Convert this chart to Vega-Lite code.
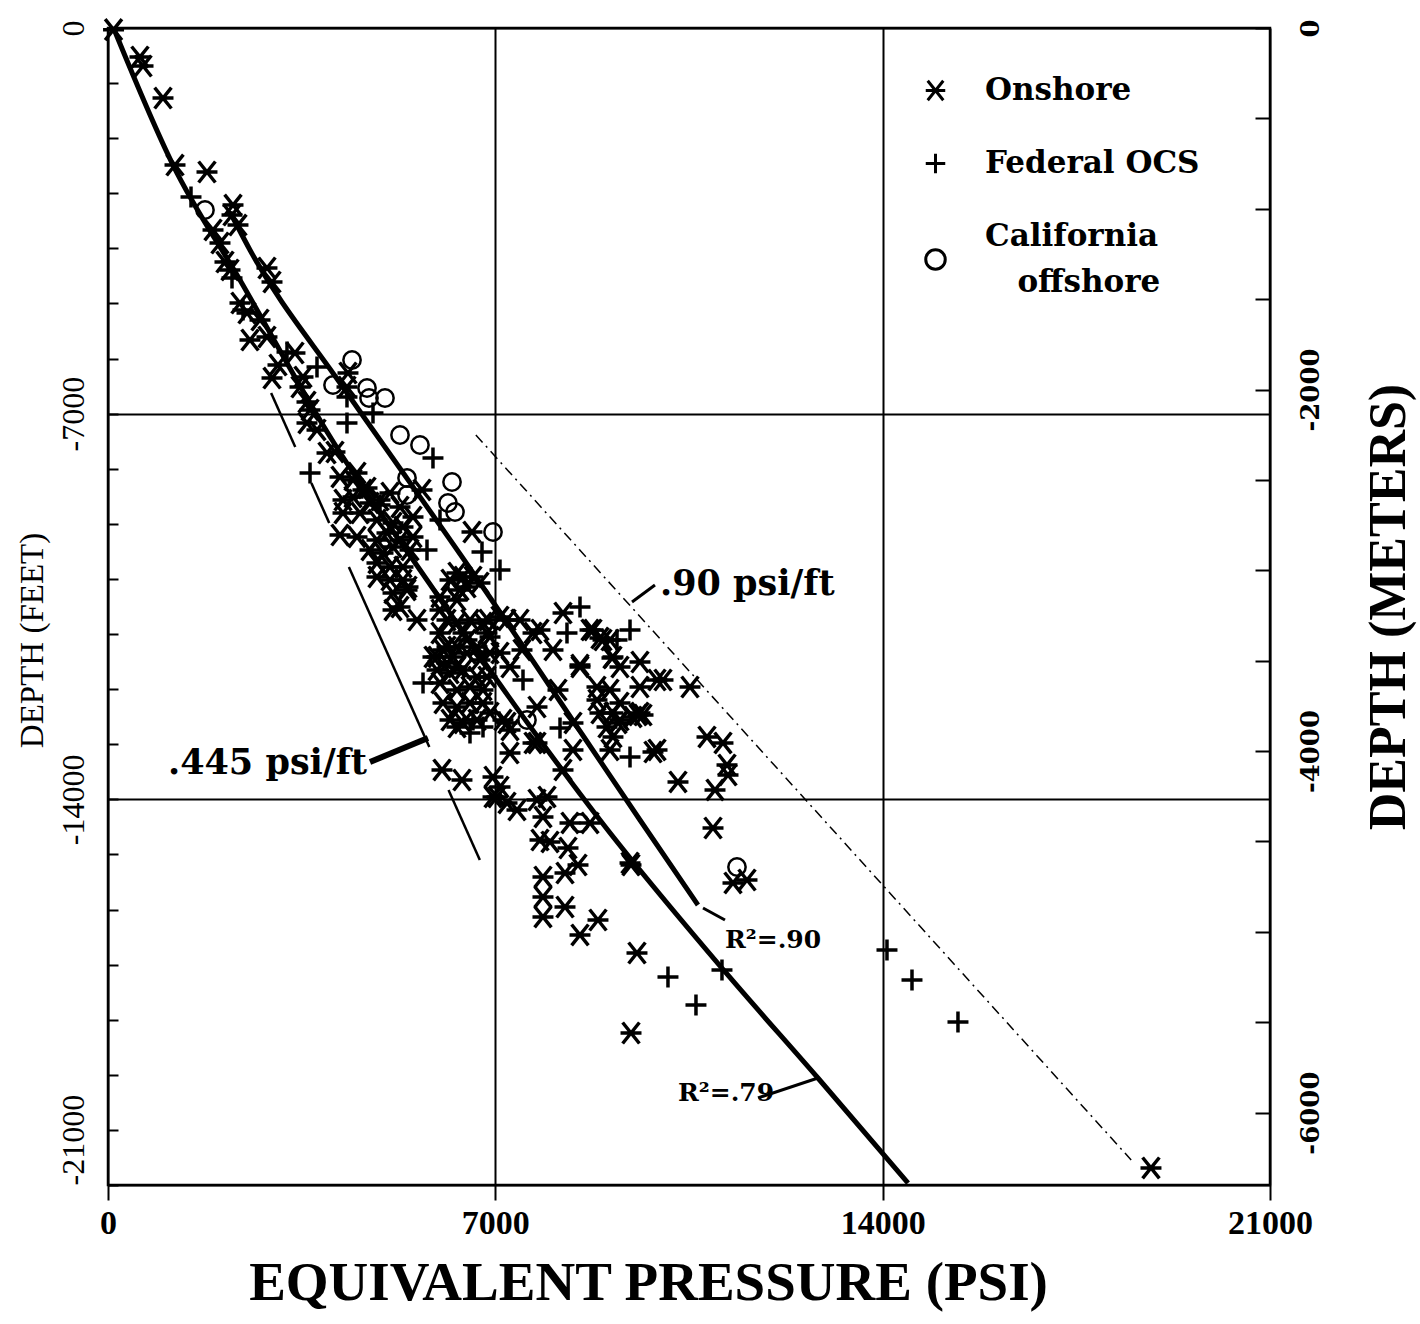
{
  "$schema": "https://vega.github.io/schema/vega-lite/v6.json",
  "width": 1162,
  "height": 1157,
  "autosize": {"type": "none"},
  "padding": {"left": 108, "top": 28, "right": 150, "bottom": 139},
  "background": "white",
  "config": {
    "view": {"stroke": "black", "strokeWidth": 2.5},
    "font": "Liberation Serif",
    "style": {"guide-label": {"lineHeight": 46}}
  },
  "datasets": {
    "pts": [
      {"source":"Onshore","psi":100,"depth":-30},{"source":"Onshore","psi":578,"depth":-526},{"source":"Onshore","psi":633,"depth":-690},{"source":"Onshore","psi":994,"depth":-1271},{"source":"Onshore","psi":1211,"depth":-2487},{"source":"Onshore","psi":1789,"depth":-2614},{"source":"Onshore","psi":2259,"depth":-3213},{"source":"Onshore","psi":2349,"depth":-3576},{"source":"Onshore","psi":2241,"depth":-3394},{"source":"Onshore","psi":1898,"depth":-3666},{"source":"Onshore","psi":2024,"depth":-3902},{"source":"Onshore","psi":2114,"depth":-4247},{"source":"Onshore","psi":2205,"depth":-4392},{"source":"Onshore","psi":2873,"depth":-4356},{"source":"Onshore","psi":2964,"depth":-4610},{"source":"Onshore","psi":2385,"depth":-4991},{"source":"Onshore","psi":2512,"depth":-5173},{"source":"Onshore","psi":2747,"depth":-5300},{"source":"Onshore","psi":2566,"depth":-5663},{"source":"Onshore","psi":2873,"depth":-5608},{"source":"Onshore","psi":3072,"depth":-6117},{"source":"Onshore","psi":2964,"depth":-6353},{"source":"Onshore","psi":3379,"depth":-5899},{"source":"Onshore","psi":3524,"depth":-6334},{"source":"Onshore","psi":3470,"depth":-6516},{"source":"Onshore","psi":4337,"depth":-6262},{"source":"Onshore","psi":4319,"depth":-6516},{"source":"Onshore","psi":3596,"depth":-6788},{"source":"Onshore","psi":3651,"depth":-6933},{"source":"Onshore","psi":3596,"depth":-7169},{"source":"Onshore","psi":3777,"depth":-7296},{"source":"Onshore","psi":4102,"depth":-7696},{"source":"Onshore","psi":3958,"depth":-7714},{"source":"Onshore","psi":4193,"depth":-8149},{"source":"Onshore","psi":4500,"depth":-8077},{"source":"Onshore","psi":4428,"depth":-8204},{"source":"Onshore","psi":4681,"depth":-8349},{"source":"Onshore","psi":5675,"depth":-8385},{"source":"Onshore","psi":4247,"depth":-8567},{"source":"Onshore","psi":4428,"depth":-8512},{"source":"Onshore","psi":4608,"depth":-8385},{"source":"Onshore","psi":4735,"depth":-8621},{"source":"Onshore","psi":4916,"depth":-8567},{"source":"Onshore","psi":5096,"depth":-8440},{"source":"Onshore","psi":5277,"depth":-8694},{"source":"Onshore","psi":4247,"depth":-8803},{"source":"Onshore","psi":4554,"depth":-8803},{"source":"Onshore","psi":4861,"depth":-8930},{"source":"Onshore","psi":5151,"depth":-8984},{"source":"Onshore","psi":5331,"depth":-9057},{"source":"Onshore","psi":5512,"depth":-8875},{"source":"Onshore","psi":4193,"depth":-9202},{"source":"Onshore","psi":4500,"depth":-9238},{"source":"Onshore","psi":4861,"depth":-9293},{"source":"Onshore","psi":5042,"depth":-9166},{"source":"Onshore","psi":5277,"depth":-9293},{"source":"Onshore","psi":5512,"depth":-9238},{"source":"Onshore","psi":4735,"depth":-9474},{"source":"Onshore","psi":4970,"depth":-9529},{"source":"Onshore","psi":5151,"depth":-9420},{"source":"Onshore","psi":5458,"depth":-9474},{"source":"Onshore","psi":4861,"depth":-9710},{"source":"Onshore","psi":5096,"depth":-9783},{"source":"Onshore","psi":5331,"depth":-9783},{"source":"Onshore","psi":4861,"depth":-9964},{"source":"Onshore","psi":5096,"depth":-10019},{"source":"Onshore","psi":5331,"depth":-10019},{"source":"Onshore","psi":5151,"depth":-10255},{"source":"Onshore","psi":5404,"depth":-10200},{"source":"Onshore","psi":5151,"depth":-10563},{"source":"Onshore","psi":5277,"depth":-10509},{"source":"Onshore","psi":5584,"depth":-10745},{"source":"Onshore","psi":6000,"depth":-10327},{"source":"Onshore","psi":6181,"depth":-10019},{"source":"Onshore","psi":6307,"depth":-9892},{"source":"Onshore","psi":6416,"depth":-9964},{"source":"Onshore","psi":6596,"depth":-9964},{"source":"Onshore","psi":6723,"depth":-10073},{"source":"Onshore","psi":6361,"depth":-10200},{"source":"Onshore","psi":6307,"depth":-10382},{"source":"Onshore","psi":6000,"depth":-10563},{"source":"Onshore","psi":6126,"depth":-10745},{"source":"Onshore","psi":6307,"depth":-10799},{"source":"Onshore","psi":6000,"depth":-10981},{"source":"Onshore","psi":6126,"depth":-11235},{"source":"Onshore","psi":6307,"depth":-11235},{"source":"Onshore","psi":5946,"depth":-11416},{"source":"Onshore","psi":6126,"depth":-11525},{"source":"Onshore","psi":6307,"depth":-11598},{"source":"Onshore","psi":6488,"depth":-11108},{"source":"Onshore","psi":6669,"depth":-11235},{"source":"Onshore","psi":6777,"depth":-10799},{"source":"Onshore","psi":6849,"depth":-10981},{"source":"Onshore","psi":6904,"depth":-11344},{"source":"Onshore","psi":7084,"depth":-11344},{"source":"Onshore","psi":7211,"depth":-10745},{"source":"Onshore","psi":7446,"depth":-10745},{"source":"Onshore","psi":7681,"depth":-10981},{"source":"Onshore","psi":8042,"depth":-11289},{"source":"Onshore","psi":6578,"depth":-9148},{"source":"Onshore","psi":5422,"depth":-10146},{"source":"Onshore","psi":6488,"depth":-10146},{"source":"Onshore","psi":6542,"depth":-10745},{"source":"Onshore","psi":6416,"depth":-10981},{"source":"Onshore","psi":6867,"depth":-10745},{"source":"Onshore","psi":7084,"depth":-10690},{"source":"Onshore","psi":6904,"depth":-11053},{"source":"Onshore","psi":7807,"depth":-10926},{"source":"Onshore","psi":8223,"depth":-10618},{"source":"Onshore","psi":7482,"depth":-11289},{"source":"Onshore","psi":7265,"depth":-11598},{"source":"Onshore","psi":8530,"depth":-11598},{"source":"Onshore","psi":8765,"depth":-10926},{"source":"Onshore","psi":8946,"depth":-11108},{"source":"Onshore","psi":9126,"depth":-11416},{"source":"Onshore","psi":9253,"depth":-11598},{"source":"Onshore","psi":9614,"depth":-11507},{"source":"Onshore","psi":8132,"depth":-12015},{"source":"Onshore","psi":7753,"depth":-12324},{"source":"Onshore","psi":8837,"depth":-11961},{"source":"Onshore","psi":9072,"depth":-12015},{"source":"Onshore","psi":9614,"depth":-11961},{"source":"Onshore","psi":8837,"depth":-12197},{"source":"Onshore","psi":8891,"depth":-12433},{"source":"Onshore","psi":9126,"depth":-12433},{"source":"Onshore","psi":9253,"depth":-12560},{"source":"Onshore","psi":9018,"depth":-12687},{"source":"Onshore","psi":9614,"depth":-12433},{"source":"Onshore","psi":9126,"depth":-12868},{"source":"Onshore","psi":9488,"depth":-12505},{"source":"Onshore","psi":9253,"depth":-12251},{"source":"Onshore","psi":9922,"depth":-11834},{"source":"Onshore","psi":9849,"depth":-13141},{"source":"Onshore","psi":9072,"depth":-13104},{"source":"Onshore","psi":8403,"depth":-13104},{"source":"Onshore","psi":8403,"depth":-12614},{"source":"Onshore","psi":7753,"depth":-12977},{"source":"Onshore","psi":8223,"depth":-13467},{"source":"Onshore","psi":7265,"depth":-13159},{"source":"Onshore","psi":7211,"depth":-12614},{"source":"Onshore","psi":6036,"depth":-13467},{"source":"Onshore","psi":6397,"depth":-13649},{"source":"Onshore","psi":6958,"depth":-13594},{"source":"Onshore","psi":7084,"depth":-13776},{"source":"Onshore","psi":5873,"depth":-11416},{"source":"Onshore","psi":6054,"depth":-11289},{"source":"Onshore","psi":6235,"depth":-11416},{"source":"Onshore","psi":6488,"depth":-11344},{"source":"Onshore","psi":6723,"depth":-11471},{"source":"Onshore","psi":5946,"depth":-11652},{"source":"Onshore","psi":6181,"depth":-11707},{"source":"Onshore","psi":6416,"depth":-11652},{"source":"Onshore","psi":6669,"depth":-11779},{"source":"Onshore","psi":6849,"depth":-11779},{"source":"Onshore","psi":6000,"depth":-11888},{"source":"Onshore","psi":6307,"depth":-12015},{"source":"Onshore","psi":6542,"depth":-11961},{"source":"Onshore","psi":6777,"depth":-12015},{"source":"Onshore","psi":6054,"depth":-12251},{"source":"Onshore","psi":6307,"depth":-12324},{"source":"Onshore","psi":6542,"depth":-12251},{"source":"Onshore","psi":6777,"depth":-12251},{"source":"Onshore","psi":6181,"depth":-12560},{"source":"Onshore","psi":6416,"depth":-12614},{"source":"Onshore","psi":6669,"depth":-12560},{"source":"Onshore","psi":6904,"depth":-12433},{"source":"Onshore","psi":6307,"depth":-12687},{"source":"Onshore","psi":7138,"depth":-12560},{"source":"Onshore","psi":7265,"depth":-12741},{"source":"Onshore","psi":7030,"depth":-13957},{"source":"Onshore","psi":7211,"depth":-14066},{"source":"Onshore","psi":7391,"depth":-14193},{"source":"Onshore","psi":7753,"depth":-14012},{"source":"Onshore","psi":7934,"depth":-13957},{"source":"Onshore","psi":8711,"depth":-10926},{"source":"Onshore","psi":8891,"depth":-11072},{"source":"Onshore","psi":9072,"depth":-11108},{"source":"Onshore","psi":9108,"depth":-11434},{"source":"Onshore","psi":8530,"depth":-11562},{"source":"Onshore","psi":10030,"depth":-11834},{"source":"Onshore","psi":10518,"depth":-11961},{"source":"Onshore","psi":9217,"depth":-12614},{"source":"Onshore","psi":9578,"depth":-12469},{"source":"Onshore","psi":9922,"depth":-13104},{"source":"Onshore","psi":10825,"depth":-12868},{"source":"Onshore","psi":11114,"depth":-12977},{"source":"Onshore","psi":11187,"depth":-13377},{"source":"Onshore","psi":11205,"depth":-13558},{"source":"Onshore","psi":10301,"depth":-13685},{"source":"Onshore","psi":10970,"depth":-13830},{"source":"Onshore","psi":9669,"depth":-12469},{"source":"Onshore","psi":10934,"depth":-14520},{"source":"Onshore","psi":7681,"depth":-12977},{"source":"Onshore","psi":6958,"depth":-13957},{"source":"Onshore","psi":7861,"depth":-14320},{"source":"Onshore","psi":8349,"depth":-14429},{"source":"Onshore","psi":8711,"depth":-14429},{"source":"Onshore","psi":7807,"depth":-14738},{"source":"Onshore","psi":7988,"depth":-14774},{"source":"Onshore","psi":8313,"depth":-14883},{"source":"Onshore","psi":8259,"depth":-15337},{"source":"Onshore","psi":8494,"depth":-15192},{"source":"Onshore","psi":9434,"depth":-15155},{"source":"Onshore","psi":7861,"depth":-15409},{"source":"Onshore","psi":7861,"depth":-15772},{"source":"Onshore","psi":7861,"depth":-16135},{"source":"Onshore","psi":8259,"depth":-15954},{"source":"Onshore","psi":8855,"depth":-16190},{"source":"Onshore","psi":8530,"depth":-16462},{"source":"Onshore","psi":9560,"depth":-16789},{"source":"Onshore","psi":11295,"depth":-15518},{"source":"Onshore","psi":11548,"depth":-15464},{"source":"Onshore","psi":9452,"depth":-15192},{"source":"Onshore","psi":9452,"depth":-18241},{"source":"Onshore","psi":18849,"depth":-20691},
      {"source":"Federal OCS","psi":1500,"depth":-3067},{"source":"Federal OCS","psi":2241,"depth":-4538},{"source":"Federal OCS","psi":2440,"depth":-5118},{"source":"Federal OCS","psi":3235,"depth":-5881},{"source":"Federal OCS","psi":3777,"depth":-6153},{"source":"Federal OCS","psi":4319,"depth":-6697},{"source":"Federal OCS","psi":4789,"depth":-6988},{"source":"Federal OCS","psi":4319,"depth":-7169},{"source":"Federal OCS","psi":5873,"depth":-7805},{"source":"Federal OCS","psi":3651,"depth":-8077},{"source":"Federal OCS","psi":6759,"depth":-9511},{"source":"Federal OCS","psi":7084,"depth":-9837},{"source":"Federal OCS","psi":6813,"depth":-11325},{"source":"Federal OCS","psi":7500,"depth":-11834},{"source":"Federal OCS","psi":8530,"depth":-10509},{"source":"Federal OCS","psi":8295,"depth":-10981},{"source":"Federal OCS","psi":9199,"depth":-11108},{"source":"Federal OCS","psi":9434,"depth":-10926},{"source":"Federal OCS","psi":8169,"depth":-12705},{"source":"Federal OCS","psi":9434,"depth":-13231},{"source":"Federal OCS","psi":6596,"depth":-12560},{"source":"Federal OCS","psi":5693,"depth":-11888},{"source":"Federal OCS","psi":6542,"depth":-12796},{"source":"Federal OCS","psi":6777,"depth":-12687},{"source":"Federal OCS","psi":10120,"depth":-17224},{"source":"Federal OCS","psi":10626,"depth":-17733},{"source":"Federal OCS","psi":11096,"depth":-17097},{"source":"Federal OCS","psi":14078,"depth":-16734},{"source":"Federal OCS","psi":14530,"depth":-17279},{"source":"Federal OCS","psi":15361,"depth":-18041},{"source":"Federal OCS","psi":5765,"depth":-9474},{"source":"Federal OCS","psi":6000,"depth":-8930},{"source":"Federal OCS","psi":4916,"depth":-8658},
      {"source":"California offshore","psi":1753,"depth":-3303},{"source":"California offshore","psi":4410,"depth":-6026},{"source":"California offshore","psi":4066,"depth":-6480},{"source":"California offshore","psi":4681,"depth":-6534},{"source":"California offshore","psi":4717,"depth":-6716},{"source":"California offshore","psi":5006,"depth":-6716},{"source":"California offshore","psi":5277,"depth":-7387},{"source":"California offshore","psi":5638,"depth":-7569},{"source":"California offshore","psi":5404,"depth":-8168},{"source":"California offshore","psi":6217,"depth":-8240},{"source":"California offshore","psi":6144,"depth":-8621},{"source":"California offshore","psi":6271,"depth":-8785},{"source":"California offshore","psi":6958,"depth":-9148},{"source":"California offshore","psi":11367,"depth":-15228},{"source":"California offshore","psi":7572,"depth":-12560},{"source":"California offshore","psi":8530,"depth":-14429},{"source":"California offshore","psi":5404,"depth":-8476},{"source":"California offshore","psi":6307,"depth":-10146}
    ],
    "fits": [
      {"fit":"R2=.79","psi":100,"depth":0},{"fit":"R2=.79","psi":1175,"depth":-2487},{"fit":"R2=.79","psi":2385,"depth":-4574},{"fit":"R2=.79","psi":4050,"depth":-7478},{"fit":"R2=.79","psi":5765,"depth":-10019},{"fit":"R2=.79","psi":7807,"depth":-12923},{"fit":"R2=.79","psi":8891,"depth":-14375},{"fit":"R2=.79","psi":11170,"depth":-17152},{"fit":"R2=.79","psi":12830,"depth":-19058},{"fit":"R2=.79","psi":14458,"depth":-20964},
      {"fit":"R2=.90","psi":2205,"depth":-3340},{"fit":"R2=.90","psi":2566,"depth":-4029},{"fit":"R2=.90","psi":4193,"depth":-6443},{"fit":"R2=.90","psi":4916,"depth":-7478},{"fit":"R2=.90","psi":6687,"depth":-10019},{"fit":"R2=.90","psi":8638,"depth":-12923},{"fit":"R2=.90","psi":9614,"depth":-14375},{"fit":"R2=.90","psi":10662,"depth":-15918}
    ],
    "grad445": [
      {"psi":2948,"depth":-6625,"psi2":3384,"depth2":-7605},
      {"psi":3675,"depth":-8258,"psi2":3998,"depth2":-8984},
      {"psi":4353,"depth":-9783,"psi2":5807,"depth2":-13050},
      {"psi":6154,"depth":-13830,"psi2":6720,"depth2":-15101}
    ],
    "grad90": [
      {"psi":6648,"depth":-7387,"psi2":18491,"depth2":-20546}
    ],
    "leaders": [
      {"kind":"thin","psi":9470,"depth":-10418,"psi2":9885,"depth2":-10110},
      {"kind":"thick","psi":4735,"depth":-13322,"psi2":5783,"depth2":-12887},
      {"kind":"thin","psi":10753,"depth":-15972,"psi2":11150,"depth2":-16190},
      {"kind":"thin","psi":11747,"depth":-19420,"psi2":12831,"depth2":-19058}
    ],
    "gradLabels": [
      {"label":".90 psi/ft","psi":9976,"depth":-10091},
      {"label":".445 psi/ft","psi":1084,"depth":-13340}
    ],
    "fitLabels": [
      {"label":"R²=.90","psi":11150,"depth":-16553},
      {"label":"R²=.79","psi":10301,"depth":-19330}
    ]
  },
  "layer": [
    {
      "encoding": {
        "x": {
          "field": "psi", "type": "quantitative",
          "scale": {"domain": [0, 21000], "nice": false, "zero": false},
          "axis": {
            "title": "EQUIVALENT PRESSURE (PSI)",
            "values": [0, 7000, 14000, 21000],
            "format": "d",
            "grid": true, "gridColor": "black", "gridWidth": 2, "gridOpacity": 1,
            "domain": false,
            "ticks": true, "tickColor": "black", "tickSize": 15, "tickWidth": 2,
            "labelFont": "Liberation Serif", "labelFontSize": 34, "labelFontWeight": "bold", "labelColor": "black",
            "labelPadding": 6, "labelFlush": false, "labelOverlap": false,
            "titleFont": "Liberation Serif", "titleFontSize": 55, "titleFontWeight": "bold", "titleColor": "black",
            "titlePadding": 16, "titleX": 540
          }
        },
        "y": {
          "field": "depth", "type": "quantitative",
          "scale": {"domain": [-21000, 0], "nice": false, "zero": false},
          "axis": {
            "title": "DEPTH (FEET)",
            "orient": "left",
            "values": [-21000,-20000,-19000,-18000,-17000,-16000,-15000,-14000,-13000,-12000,-11000,-10000,-9000,-8000,-7000,-6000,-5000,-4000,-3000,-2000,-1000,0],
            "labelExpr": "datum.value % 7000 == 0 ? (datum.value == 0 ? '0' : '-' + abs(datum.value)) : ''",
            "grid": true, "gridColor": "black", "gridWidth": 2,
            "gridOpacity": {"condition": {"test": "datum.value % 7000 == 0", "value": 1}, "value": 0},
            "domain": false,
            "tickColor": "black", "tickSize": -10, "tickWidth": 2,
            "labelAngle": -90,
            "labelAlign": {"condition": {"test": "datum.value == -21000", "value": "left"}, "value": "center"},
            "labelBaseline": "bottom",
            "labelPadding": 28,
            "labelFont": "Liberation Serif", "labelFontSize": 32, "labelColor": "black",
            "labelOverlap": false, "labelFlush": false,
            "titleFont": "Liberation Serif", "titleFontSize": 33, "titleFontWeight": "normal", "titleColor": "black",
            "titlePadding": 8, "titleY": 612
          }
        }
      },
      "layer": [
        {
          "data": {"name": "grad90"},
          "mark": {"type": "rule", "color": "black", "strokeWidth": 1.5, "strokeDash": [10, 5, 2, 5]},
          "encoding": {"x2": {"field": "psi2"}, "y2": {"field": "depth2"}}
        },
        {
          "data": {"name": "grad445"},
          "mark": {"type": "rule", "color": "black", "strokeWidth": 2.5},
          "encoding": {"x2": {"field": "psi2"}, "y2": {"field": "depth2"}}
        },
        {
          "data": {"name": "leaders"},
          "transform": [{"filter": "datum.kind == 'thin'"}],
          "mark": {"type": "rule", "color": "black", "strokeWidth": 3},
          "encoding": {"x2": {"field": "psi2"}, "y2": {"field": "depth2"}}
        },
        {
          "data": {"name": "leaders"},
          "transform": [{"filter": "datum.kind == 'thick'"}],
          "mark": {"type": "rule", "color": "black", "strokeWidth": 6},
          "encoding": {"x2": {"field": "psi2"}, "y2": {"field": "depth2"}}
        },
        {
          "data": {"name": "fits"},
          "mark": {"type": "line", "color": "black", "strokeWidth": 5, "interpolate": "monotone"},
          "encoding": {"detail": {"field": "fit", "type": "nominal"}, "order": {"field": "psi", "type": "quantitative"}}
        },
        {
          "data": {"name": "pts"},
          "transform": [{"filter": "datum.source == 'Onshore'"}],
          "mark": {"type": "point", "filled": false, "stroke": "black", "strokeWidth": 3.5, "opacity": 1, "size": 440},
          "encoding": {
            "shape": {
              "field": "source", "type": "nominal",
              "scale": {
                "domain": ["Onshore", "Federal OCS", "California offshore"],
                "range": ["M-0.8,-1L0.8,1M-0.8,1L0.8,-1M-1,0L1,0", "M-1,0L1,0M0,-1L0,1", "circle"]
              },
              "legend": {
                "title": null,
                "orient": "none", "legendX": 812, "legendY": 47,
                "padding": 0,
                "labelFont": "DejaVu Serif", "labelFontSize": 31, "labelFontWeight": "bold", "labelColor": "black",
                "labelOffset": 34, "labelLimit": 400,
                "labelBaseline": {"expr": "datum.value == 'California offshore' ? 'line-bottom' : 'middle'"},
                "labelExpr": "datum.label == 'California offshore' ? ['California', '\u200b\u00a0\u00a0\u00a0offshore'] : datum.label",
                "symbolSize": 380, "symbolStrokeWidth": 3, "symbolStrokeColor": "black",
                "rowPadding": 40
              }
            }
          }
        },
        {
          "data": {"name": "pts"},
          "transform": [{"filter": "datum.source == 'Federal OCS'"}],
          "mark": {"type": "point", "filled": false, "stroke": "black", "strokeWidth": 3.5, "opacity": 1, "size": 440},
          "encoding": {"shape": {"field": "source", "type": "nominal"}}
        },
        {
          "data": {"name": "pts"},
          "transform": [{"filter": "datum.source == 'California offshore'"}],
          "mark": {"type": "point", "filled": false, "stroke": "black", "strokeWidth": 2.5, "opacity": 1, "size": 300},
          "encoding": {"shape": {"field": "source", "type": "nominal"}}
        },
        {
          "data": {"name": "gradLabels"},
          "mark": {"type": "text", "align": "left", "baseline": "middle", "font": "DejaVu Serif", "fontWeight": "bold", "fontSize": 35, "color": "black"},
          "encoding": {"text": {"field": "label"}}
        },
        {
          "data": {"name": "fitLabels"},
          "mark": {"type": "text", "align": "left", "baseline": "middle", "font": "DejaVu Serif", "fontWeight": "bold", "fontSize": 25, "color": "black"},
          "encoding": {"text": {"field": "label"}}
        }
      ]
    },
    {
      "data": {"values": [{"m": 0}, {"m": -6400.8}]},
      "mark": {"type": "rule", "strokeOpacity": 0},
      "encoding": {
        "y": {
          "field": "m", "type": "quantitative",
          "scale": {"domain": [-6400.8, 0], "nice": false, "zero": false},
          "axis": {
            "orient": "right",
            "title": "DEPTH (METERS)",
            "values": [-6000,-5500,-5000,-4500,-4000,-3500,-3000,-2500,-2000,-1500,-1000,-500,0],
            "labelExpr": "datum.value % 2000 == 0 ? (datum.value == 0 ? '0' : '-' + abs(datum.value)) : ''",
            "grid": false, "domain": false,
            "tickColor": "black", "tickSize": -15, "tickWidth": 2,
            "labelAngle": -90, "labelAlign": "center", "labelBaseline": "top",
            "labelPadding": 42,
            "labelFont": "DejaVu Serif", "labelFontSize": 26, "labelFontWeight": "bold", "labelColor": "black",
            "labelOverlap": false, "labelFlush": false,
            "titleFont": "Liberation Serif", "titleFontSize": 52, "titleFontWeight": "bold", "titleColor": "black",
            "titleAngle": -90, "titleBaseline": "top", "titlePadding": 40
          }
        }
      }
    }
  ],
  "resolve": {"scale": {"y": "independent"}, "axis": {"y": "independent"}}
}
